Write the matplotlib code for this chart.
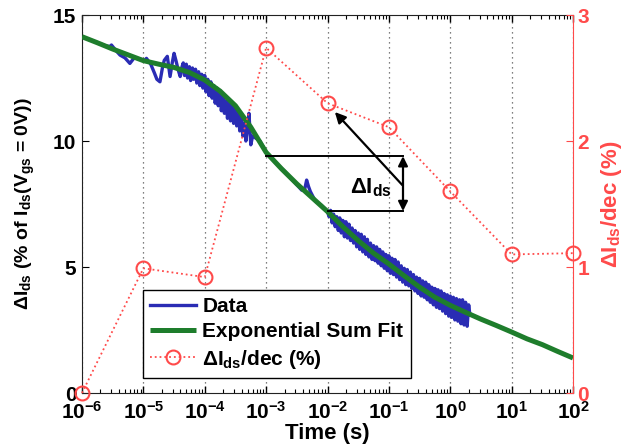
import numpy as np
import matplotlib
matplotlib.use("Agg")
import matplotlib.pyplot as plt
from matplotlib.ticker import FixedLocator, FuncFormatter, LogLocator, NullFormatter

plt.rcParams['font.family'] = ['Liberation Sans', 'DejaVu Sans']
plt.rcParams['mathtext.fontset'] = 'custom'
plt.rcParams['mathtext.rm'] = 'Liberation Sans'
plt.rcParams['mathtext.it'] = 'Liberation Sans:italic'
plt.rcParams['mathtext.bf'] = 'Liberation Sans:bold'

# Exponential-sum fit, sampled every quarter decade (log10 of time in s)
fit_log_time = [-6.0, -5.75, -5.5, -5.25, -5.0, -4.75, -4.5, -4.25, -4.0,
                -3.75, -3.5, -3.25, -3.0, -2.75, -2.5, -2.25, -2.0,
                -1.75, -1.5, -1.25, -1.0, -0.75, -0.5, -0.25, 0.0,
                0.25, 0.5, 0.75, 1.0, 1.25, 1.5, 1.75, 2.0]
fit_values = [14.14, 13.9, 13.65, 13.42, 13.19, 13.05, 12.92, 12.72, 12.42,
              11.98, 11.4, 10.55, 9.55, 8.9, 8.3, 7.75, 7.2,
              6.6, 6.05, 5.55, 5.12, 4.65, 4.2, 3.8, 3.48,
              3.2, 2.93, 2.68, 2.42, 2.15, 1.92, 1.65, 1.39]

# Measured drain-current drift (log10 of time in s, % of Ids)
data_log_time = [
    -6.0, -5.8, -5.62, -5.55, -5.52, -5.45, -5.38, -5.3, -5.22, -5.15, -5.05, -4.98,
    -4.95, -4.88, -4.82, -4.78, -4.73, -4.69, -4.66, -4.61, -4.585, -4.565,
    -4.53, -4.50, -4.47, -4.43, -4.40, -4.37, -4.35,
    -4.33, -4.30, -4.28, -4.25, -4.23, -4.20, -4.18, -4.15, -4.13, -4.10,
    -4.08, -4.05, -4.03, -4.00, -3.98, -3.95, -3.93, -3.90, -3.88, -3.85,
    -3.83, -3.80, -3.78, -3.75, -3.73, -3.70, -3.68, -3.65, -3.63, -3.60,
    -3.58, -3.55, -3.53, -3.50, -3.48, -3.45, -3.43, -3.40, -3.38, -3.35,
    -3.33, -3.30, -3.28, -3.25, -3.22,
    -3.1, -3.0, -2.85, -2.7, -2.55, -2.42,
    -2.37, -2.34, -2.31, -2.28, -2.2, -2.1, -2.0,
    -1.975, -1.95, -1.925, -1.9, -1.875, -1.85, -1.825, -1.8, -1.775, -1.75,
    -1.725, -1.7, -1.675, -1.65, -1.625, -1.6, -1.575, -1.55, -1.525, -1.5,
    -1.475, -1.45, -1.425, -1.4, -1.375, -1.35, -1.325, -1.3, -1.275, -1.25,
    -1.225, -1.2, -1.175, -1.15, -1.125, -1.1, -1.075, -1.05, -1.025, -1.0,
    -0.975, -0.95, -0.925, -0.9, -0.875, -0.85, -0.825, -0.8, -0.775, -0.75,
    -0.725, -0.7, -0.675, -0.65, -0.625, -0.6, -0.575, -0.55, -0.525, -0.5,
    -0.475, -0.45, -0.425, -0.4, -0.375, -0.35, -0.325, -0.3, -0.275, -0.25,
    -0.225, -0.2, -0.175, -0.15, -0.125, -0.1, -0.075, -0.05, -0.025, 0.0,
    0.025, 0.05, 0.075, 0.1, 0.125, 0.15, 0.175, 0.2, 0.225, 0.25,
    0.275, 0.3, 0.32]
data_values = [
    14.14, 13.95, 13.78, 13.75, 13.81, 13.6, 13.41, 13.3, 13.08, 13.3, 13.25, 13.2,
    13.28, 13.05, 12.7, 12.45, 12.35, 12.9, 13.2, 13.36, 12.9, 12.56,
    13.1, 13.48, 13.2, 12.8, 12.56, 12.95, 13.1,
    12.6, 13.05, 12.5, 12.95, 12.4, 12.9, 12.45, 12.85, 12.3, 12.75,
    12.2, 12.65, 12.1, 12.6, 11.95, 12.45, 11.8, 12.35, 11.7, 12.2,
    11.5, 12.1, 11.4, 12.0, 11.2, 11.85, 11.1, 11.6, 10.9, 11.5,
    10.8, 11.4, 10.7, 11.3, 10.6, 11.2, 10.4, 11.1, 10.2, 10.7,
    10.0, 10.6, 11.1, 9.85, 10.2,
    10.0, 9.55, 9.15, 8.8, 8.4, 8.05,
    8.1, 8.45, 8.2, 8.0, 7.62, 7.45, 7.2,
    7.0, 7.25, 6.75, 7.1, 6.6, 7.0, 6.45, 6.95, 6.35, 6.85,
    6.2, 6.8, 6.15, 6.7, 6.05, 6.55, 5.95, 6.45, 5.8, 6.35,
    5.7, 6.3, 5.6, 6.2, 5.5, 6.1, 5.4, 5.95, 5.3, 5.85,
    5.25, 5.8, 5.15, 5.7, 5.05, 5.6, 4.95, 5.5, 4.85, 5.45,
    4.75, 5.35, 4.7, 5.3, 4.6, 5.2, 4.5, 5.05, 4.4, 4.95,
    4.3, 4.9, 4.25, 4.8, 4.15, 4.7, 4.05, 4.6, 3.95, 4.55,
    3.85, 4.45, 3.8, 4.4, 3.7, 4.3, 3.6, 4.2, 3.5, 4.15,
    3.4, 4.1, 3.35, 4.05, 3.25, 3.95, 3.15, 3.9, 3.05, 3.85,
    3.0, 3.8, 2.9, 3.75, 2.85, 3.7, 2.75, 3.7, 2.7, 3.6,
    2.65, 3.5, 3.1]

# Drift per decade, right axis
dec_time = [1e-6, 1e-5, 1e-4, 1e-3, 1e-2, 1e-1, 1e0, 1e1, 1e2]
dec_values = [0.0, 0.99, 0.92, 2.74, 2.30, 2.11, 1.60, 1.10, 1.11]

x_tick_exponents = [-6, -5, -4, -3, -2, -1, 0, 1, 2]
left_ticks = [0, 5, 10, 15]
right_ticks = [0, 1, 2, 3]

BLUE = '#2a2cb4'
GREEN = '#1e7d2c'
RED = '#ff4a4a'
FS_TICK = 15
FS_LABEL = 16
FS_YLABEL = 14
FS_LEG = 15

fit_time = 10.0 ** np.array(fit_log_time)
data_time = 10.0 ** np.array(data_log_time)

fig = plt.figure(figsize=(6.24, 4.46), dpi=100)
ax = fig.add_axes([0.1314, 0.1188, 0.7869, 0.8475])
ax2 = ax.twinx()

h_data, = ax.plot(data_time, data_values, color=BLUE, lw=2.4, zorder=2,
                  label='Data')
h_fit, = ax.plot(fit_time, fit_values, color=GREEN, lw=3.6, zorder=3,
                 solid_capstyle='butt', label='Exponential Sum Fit')
h_dec, = ax2.plot(dec_time, dec_values, ':', color=RED, lw=1.3,
                  marker='o', ms=10, mfc='none', mec=RED, mew=1.5,
                  clip_on=False, zorder=4,
                  label=r'$\mathbf{\Delta I_{ds}}$/dec (%)')

# Decade-to-decade drift annotation
t_a, t_b, t_end = 1e-3, 1e-2, 10 ** -0.77
y_hi, y_lo = 9.4, 7.22
ax.plot([t_a, t_end], [y_hi, y_hi], color='black', lw=1.4, zorder=4)
ax.plot([t_b, t_end], [y_lo, y_lo], color='black', lw=1.4, zorder=4)
ax.annotate('', xy=(t_end, y_hi), xytext=(t_end, y_lo),
            arrowprops=dict(arrowstyle='<|-|>', color='black', lw=1.6,
                            mutation_scale=14, shrinkA=0, shrinkB=0))
ax.annotate('', xy=(10 ** -1.88, 11.15), xytext=(10 ** -0.78, 8.25),
            arrowprops=dict(arrowstyle='-|>', color='black', lw=1.6,
                            mutation_scale=16, shrinkA=0, shrinkB=0))
ax.text(10 ** -1.29, 8.15, r'$\mathbf{\Delta I_{ds}}$', fontsize=FS_LABEL,
        ha='center', va='center', zorder=5)

# Axes, ticks and grid
ax.set_xscale('log')
ax.set_xlim(1e-6, 1e2)
ax.set_ylim(0, 15)
ax2.set_ylim(0, 3)
ax.xaxis.set_major_locator(FixedLocator([10.0 ** e for e in x_tick_exponents]))
ax.xaxis.set_major_formatter(FuncFormatter(
    lambda v, _: r'$\mathbf{10^{%d}}$' % int(round(np.log10(v)))))
ax.xaxis.set_minor_locator(LogLocator(base=10, subs=np.arange(2, 10), numticks=100))
ax.xaxis.set_minor_formatter(NullFormatter())
ax.set_yticks(left_ticks)
ax2.set_yticks(right_ticks)

ax.grid(True, axis='x', which='major', linestyle=(0, (1, 3)), color='#555555', lw=0.9)
ax.tick_params(axis='x', which='both', direction='in', top=True, labelsize=FS_TICK, pad=6)
ax.tick_params(axis='x', which='major', length=5, width=1)
ax.tick_params(axis='x', which='minor', length=3, width=0.8)
ax.tick_params(axis='y', which='both', direction='in', right=False, length=5,
               labelsize=FS_TICK, pad=4)
for lab in ax.get_yticklabels():
    lab.set_fontweight('bold')
ax2.tick_params(axis='y', direction='in', length=5, colors=RED, labelsize=FS_TICK, pad=3)
for lab in ax2.get_yticklabels():
    lab.set_fontweight('bold')

for side in ['left', 'top', 'bottom']:
    ax.spines[side].set_color('#222222')
    ax2.spines[side].set_visible(False)
ax.spines['right'].set_visible(False)
ax2.spines['right'].set_color(RED)

ax.set_xlabel('Time (s)', fontsize=FS_LABEL, fontweight='bold', labelpad=0)
ax.set_ylabel(r'$\mathbf{\Delta I_{ds}}$ (% of $\mathbf{I_{ds}}$($\mathbf{V_{gs}}$ = 0V))',
              fontsize=FS_YLABEL, fontweight='bold')
ax.yaxis.set_label_coords(-0.092, 0.5)
ax2.set_ylabel(r'$\mathbf{\Delta I_{ds}}$/dec (%)', fontsize=FS_LABEL,
               fontweight='bold', color=RED)
ax2.yaxis.set_label_coords(1.052, 0.5)

leg = ax2.legend([h_data, h_fit, h_dec],
                 ['Data', 'Exponential Sum Fit', r'$\mathbf{\Delta I_{ds}}$/dec (%)'],
                 loc='lower left', bbox_to_anchor=(0.124, 0.04),
                 prop={'weight': 'bold', 'size': FS_LEG}, frameon=True,
                 fancybox=False, edgecolor='black', framealpha=1,
                 handlelength=2.2, borderpad=0.35, labelspacing=0.3,
                 handletextpad=0.3, borderaxespad=0)
leg.get_frame().set_linewidth(1.0)
leg.set_zorder(10)

fig.savefig('out.png', dpi=100)
